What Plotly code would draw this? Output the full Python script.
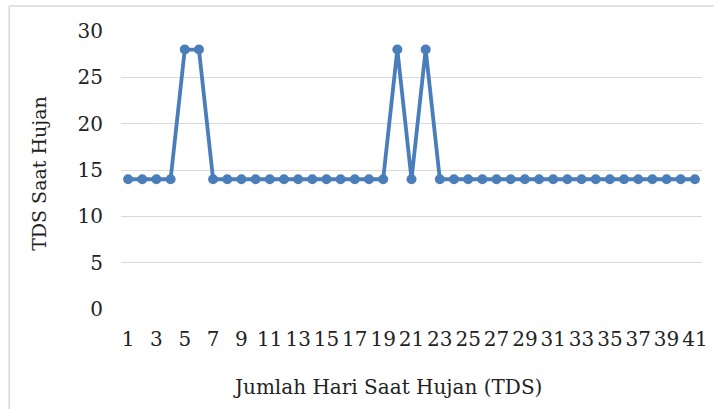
import plotly.graph_objects as go

days = list(range(1, 42))
tds = [14, 14, 14, 14, 28, 28, 14, 14, 14, 14,
       14, 14, 14, 14, 14, 14, 14, 14, 14, 28,
       14, 28, 14, 14, 14, 14, 14, 14, 14, 14,
       14, 14, 14, 14, 14, 14, 14, 14, 14, 14, 14]
x_ticks = list(range(1, 42, 2))
y_ticks = [0, 5, 10, 15, 20, 25, 30]

W, H = 720, 409
L, R, T, B = 121, 12, 31, 100
pw, ph = W - L - R, H - T - B

def px(x):
    return (x - L) / pw

def py(y):
    return (H - B - y) / ph

font = dict(family="DejaVu Serif, Liberation Serif, serif", size=20, color="#222222")

fig = go.Figure()
fig.add_trace(go.Scatter(
    x=days, y=tds, mode="lines+markers",
    line=dict(color="#4a7ebb", width=3.8),
    marker=dict(color="#4a7ebb", size=10),
    showlegend=False,
))

fig.update_layout(
    width=W, height=H,
    margin=dict(l=L, r=R, t=T, b=B),
    paper_bgcolor="white", plot_bgcolor="white",
    font=font,
    xaxis=dict(
        range=[0.5, 41.5], tickmode="array", tickvals=x_ticks,
        ticktext=[str(v) for v in x_ticks], tickangle=0,
        showgrid=False, zeroline=False, showline=False, ticks="",
        ticklabelstandoff=16,
    ),
    yaxis=dict(
        range=[0, 30], tickmode="array", tickvals=y_ticks,
        showgrid=True, gridcolor="#d9d9d9", gridwidth=1,
        zeroline=False, showline=False, ticks="",
        ticklabelstandoff=17,
    ),
    annotations=[
        dict(text="Jumlah Hari Saat Hujan (TDS)", x=px(390), y=py(387),
             xref="paper", yref="paper", showarrow=False,
             xanchor="center", yanchor="middle", font=font),
        dict(text="TDS Saat Hujan", x=px(38), y=py(173),
             xref="paper", yref="paper", showarrow=False, textangle=-90,
             xanchor="center", yanchor="middle", font=dict(font, size=19)),
    ],
    shapes=[
        dict(type="line", xref="paper", yref="paper",
             x0=px(8), x1=px(720), y0=py(6), y1=py(6),
             line=dict(color="#d9d9d9", width=1.5)),
        dict(type="line", xref="paper", yref="paper",
             x0=px(8), x1=px(8), y0=py(6), y1=py(409),
             line=dict(color="#d9d9d9", width=1.5)),
    ],
)

fig.write_html(
    "out.html",
    config={"displayModeBar": False},
    post_script="document.body.style.margin='0';document.body.style.overflow='hidden';",
)
